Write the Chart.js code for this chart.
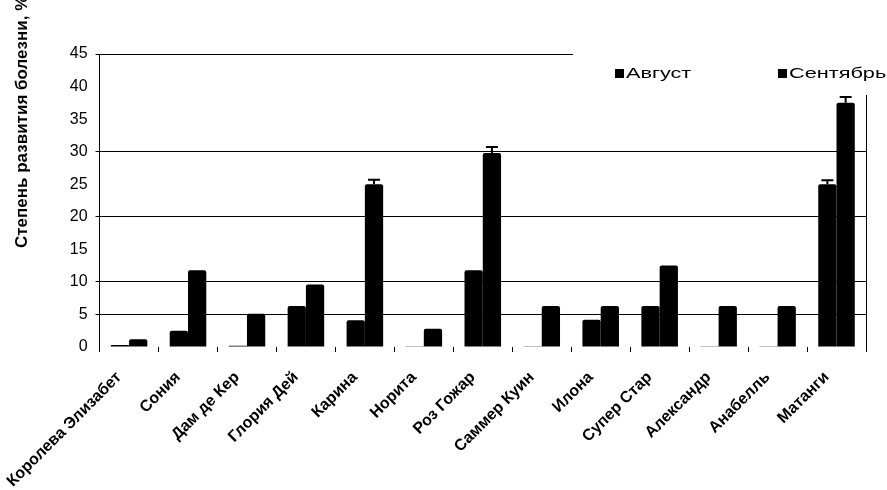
<!DOCTYPE html>
<html>
<head>
<meta charset="utf-8">
<script src="https://cdn.jsdelivr.net/npm/chart.js@4.4.1/dist/chart.umd.min.js"></script>
<style>
  html, body { margin: 0; padding: 0; background: #fff; }
  #wrap { width: 887px; height: 490px; position: relative; }
</style>
</head>
<body>
<div id="wrap"><canvas id="c"></canvas></div>
<script>
const varieties = ['Королева Элизабет', 'Сония', 'Дам де Кер', 'Глория Дей', 'Карина', 'Норита',
  'Роз Гожар', 'Саммер Куин', 'Илона', 'Супер Стар', 'Александр', 'Анабелль', 'Матанги']
const august = [0.3, 2.5, 0.2, 6.3, 4.1, 0.1, 11.8, 0.1, 4.2, 6.3, 0.1, 0.1, 25.0]
const september = [1.2, 11.8, 5.1, 9.6, 25.0, 2.8, 29.8, 6.3, 6.3, 12.5, 6.3, 6.3, 37.5]
const augustErr = [0, 0, 0, 0, 0, 0, 0, 0, 0, 0, 0, 0, 0.6]
const septemberErr = [0, 0, 0, 0, 0.7, 0, 0.9, 0, 0, 0, 0, 0, 0.9]
const gridValues = [5, 10, 20, 30, 45]
const yTitle = 'Степень развития болезни, %'
const FONT = '"Liberation Sans", Arial, sans-serif'

// error bars drawn through the y scale
const errorBars = {
  id: 'errorBars',
  afterDatasetsDraw(chart) {
    const ctx = chart.ctx
    const y = chart.scales.y
    chart.data.datasets.forEach((ds, i) => {
      const meta = chart.getDatasetMeta(i)
      meta.data.forEach((bar, j) => {
        const err = ds.errors[j]
        if (!err) return
        const top = y.getPixelForValue(ds.data[j] + err)
        const base = y.getPixelForValue(ds.data[j])
        ctx.save()
        ctx.strokeStyle = '#000'
        ctx.lineWidth = 2
        ctx.beginPath()
        ctx.moveTo(bar.x, base)
        ctx.lineTo(bar.x, top)
        ctx.moveTo(bar.x - 6, top)
        ctx.lineTo(bar.x + 6, top)
        ctx.stroke()
        ctx.restore()
      })
    })
  }
}

// legend box with white background + rotated y title
const decor = {
  id: 'decor',
  afterDraw(chart) {
    const ctx = chart.ctx
    ctx.save()
    ctx.fillStyle = '#fff'
    ctx.fillRect(573, 40, 320, 55)
    const xs = [615, 778]
    chart.data.datasets.forEach((ds, i) => {
      ctx.save()
      ctx.fillStyle = '#000'
      ctx.fillRect(xs[i], 69, 9, 9)
      // legend text in the original is stretched sideways
      ctx.translate(xs[i] + 11, 78)
      ctx.scale(1.55, 1)
      ctx.font = '14px ' + FONT
      ctx.textBaseline = 'alphabetic'
      ctx.textAlign = 'left'
      ctx.fillText(ds.label, 0, 0)
      ctx.restore()
    })
    ctx.translate(27, 248)
    ctx.rotate(-Math.PI / 2)
    ctx.font = 'bold 17px ' + FONT
    ctx.textAlign = 'left'
    ctx.textBaseline = 'alphabetic'
    ctx.fillStyle = '#000'
    ctx.fillText(yTitle, 0, 0)
    ctx.restore()
  }
}

new Chart(document.getElementById('c'), {
  type: 'bar',
  data: {
    labels: varieties,
    datasets: [
      { label: 'Август', data: august, errors: augustErr, backgroundColor: '#000',
        borderRadius: { topLeft: 2, topRight: 2 }, borderSkipped: 'bottom' },
      { label: 'Сентябрь', data: september, errors: septemberErr, backgroundColor: '#000',
        borderRadius: { topLeft: 2, topRight: 2 }, borderSkipped: 'bottom' }
    ]
  },
  options: {
    responsive: true,
    maintainAspectRatio: false,
    animation: false,
    layout: { padding: { left: 0, right: 21, top: 54, bottom: 0 } },
    datasets: { bar: { categoryPercentage: 0.62, barPercentage: 1 } },
    plugins: { legend: { display: false }, tooltip: { enabled: false } },
    scales: {
      x: {
        grid: { offset: true, drawOnChartArea: false, tickLength: 5, color: '#000' },
        border: { display: false },
        ticks: {
          autoSkip: false, minRotation: 45, maxRotation: 45, color: '#000',
          padding: 16, labelOffset: -10,
          font: { family: FONT, size: 16, weight: 'bold' }
        },
        afterFit(scale) { scale.height = 143 }
      },
      y: {
        min: 0, max: 45,
        grid: {
          color: ctx => gridValues.includes(ctx.tick.value) ? '#000' : 'rgba(0,0,0,0)',
          tickLength: 4
        },
        border: { display: true, color: '#000' },
        ticks: {
          stepSize: 5, color: '#000', padding: 8,
          font: { family: FONT, size: 16 }
        },
        afterFit(scale) { scale.width = 98 }
      },
      y1: {
        position: 'right',
        min: 0, max: 45,
        grid: { drawOnChartArea: false, drawTicks: false },
        border: { display: true, color: '#000' },
        ticks: { display: false },
        afterFit(scale) { scale.width = 0 }
      }
    }
  },
  plugins: [errorBars, decor]
})
</script>
</body>
</html>
